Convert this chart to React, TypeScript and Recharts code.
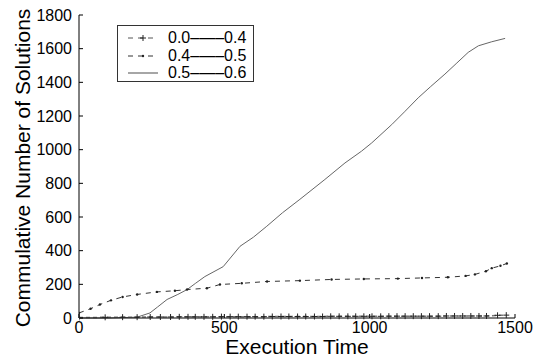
import React from 'react';
import { LineChart, Line, XAxis, YAxis } from 'recharts';

// series labels (legend)
const seriesNames = ['0.0\u2013\u2014\u20130.4', '0.4\u2013\u2014\u20130.5', '0.5\u2013\u2014\u20130.6'];

// 0.0---0.4
const lowTimes = [0, 90, 150, 200, 245, 280, 315, 345, 375, 400, 430, 460, 490, 520, 548, 578, 606, 636, 665, 695, 722, 752, 780, 810, 838, 866, 895, 925, 952, 980, 1008, 1038, 1066, 1094, 1122, 1150, 1178, 1206, 1236, 1264, 1292, 1320, 1348, 1376, 1402, 1440, 1470];
const lowCounts = [3, 4, 5, 5, 6, 6, 6, 7, 7, 7, 7, 7, 8, 8, 8, 8, 8, 8, 9, 9, 9, 9, 9, 9, 9, 10, 10, 10, 10, 10, 10, 10, 11, 11, 11, 11, 11, 11, 11, 12, 12, 12, 12, 12, 12, 16, 17];

// 0.4---0.5
const midTimes = [0, 40, 72, 110, 150, 200, 268, 330, 372, 440, 485, 560, 647, 760, 869, 980, 1097, 1180, 1269, 1330, 1362, 1400, 1420, 1450, 1472];
const midCounts = [30, 55, 80, 105, 125, 140, 155, 162, 169, 177, 199, 206, 217, 222, 229, 232, 234, 238, 242, 250, 259, 278, 296, 310, 324];

// 0.5---0.6
const highTimes = [0, 100, 200, 244, 270, 303, 340, 372, 400, 433, 496, 554, 600, 646, 700, 760, 846, 915, 972, 1007, 1076, 1120, 1167, 1210, 1259, 1300, 1339, 1374, 1420, 1466];
const highCounts = [0, 0, 5, 30, 65, 110, 140, 169, 205, 246, 305, 426, 480, 545, 625, 705, 823, 921, 991, 1040, 1149, 1225, 1308, 1375, 1449, 1515, 1578, 1617, 1641, 1661];

const xTicks = [0, 500, 1000, 1500];
const yTicks = [0, 200, 400, 600, 800, 1000, 1200, 1400, 1600, 1800];

const toPoints = (ts: number[], vs: number[]) => ts.map((t, i) => ({ t, v: vs[i] }));

const FONT = '"Liberation Sans", Arial, sans-serif';
const tickStyle = { fill: '#000', fontSize: 16, fontFamily: FONT };

const PlusDot = (props: any) => {
  const { cx, cy, index } = props;
  if (cx == null || cy == null) return <g key={index} />;
  return <path key={index} d={`M${cx - 3},${cy}h6M${cx},${cy - 3}v6`} stroke="#222" strokeWidth={1} />;
};

const SmallDot = (props: any) => {
  const { cx, cy, index } = props;
  if (cx == null || cy == null) return <g key={index} />;
  return <circle key={index} cx={cx} cy={cy} r={1.2} fill="#222" />;
};

const LegendBox = () => (
  <div
    style={{
      position: 'absolute', left: 117, top: 25, width: 135, height: 55,
      border: '1px solid #333', background: '#fff', fontFamily: FONT, fontSize: 16,
    }}
  >
    {seriesNames.map((name, i) => (
      <div key={name} style={{ position: 'absolute', left: 9, top: 3 + i * 17.5, height: 17, display: 'flex', alignItems: 'center' }}>
        <svg width={32} height={17}>
          {i === 0 && (
            <g>
              <line x1={1} y1={9} x2={31} y2={9} stroke="#555" strokeDasharray="5 5" />
              <path d="M13,9h6M16,6v6" stroke="#222" />
            </g>
          )}
          {i === 1 && (
            <g>
              <line x1={1} y1={9} x2={31} y2={9} stroke="#333" strokeDasharray="5 5" />
              <circle cx={16} cy={9} r={1.2} fill="#222" />
            </g>
          )}
          {i === 2 && <line x1={1} y1={9} x2={31} y2={9} stroke="#888" strokeWidth={1.5} />}
        </svg>
        <span style={{ marginLeft: 9, lineHeight: '17px' }}>{name}</span>
      </div>
    ))}
  </div>
);

export default function App() {
  return (
    <div style={{ position: 'absolute', left: 0, top: 0, width: 535, height: 358, background: '#fff' }}>
      <LineChart width={535} height={358} margin={{ top: 15, right: 20, bottom: 0, left: 29 }}>
        <XAxis
          type="number" dataKey="t" domain={[0, 1500]} ticks={xTicks} height={40}
          tickSize={-4} tickMargin={8} stroke="#000" tick={tickStyle} allowDataOverflow
        />
        <YAxis
          type="number" dataKey="v" domain={[0, 1800]} ticks={yTicks} width={50}
          tickSize={-4} tickMargin={11} stroke="#000" tick={tickStyle} interval={0}
        />
        <Line data={toPoints(highTimes, highCounts)} dataKey="v" type="linear" stroke="#666" strokeWidth={1} dot={false} isAnimationActive={false} />
        <Line data={toPoints(midTimes, midCounts)} dataKey="v" type="linear" stroke="#333" strokeDasharray="5 5" strokeWidth={1} dot={SmallDot} isAnimationActive={false} />
        <Line data={toPoints(lowTimes, lowCounts)} dataKey="v" type="linear" stroke="#777" strokeDasharray="4 3" strokeWidth={1.5} dot={PlusDot} isAnimationActive={false} />
      </LineChart>
      <svg width={535} height={358} style={{ position: 'absolute', left: 0, top: 0, pointerEvents: 'none' }}>
        <text x={297} y={354} textAnchor="middle" fontSize={21} fontFamily={FONT} fill="#000">Execution Time</text>
        <text transform="translate(30,168) rotate(-90)" textAnchor="middle" fontSize={21} fontFamily={FONT} fill="#000">Commulative Number of Solutions</text>
      </svg>
      <LegendBox />
    </div>
  );
}
